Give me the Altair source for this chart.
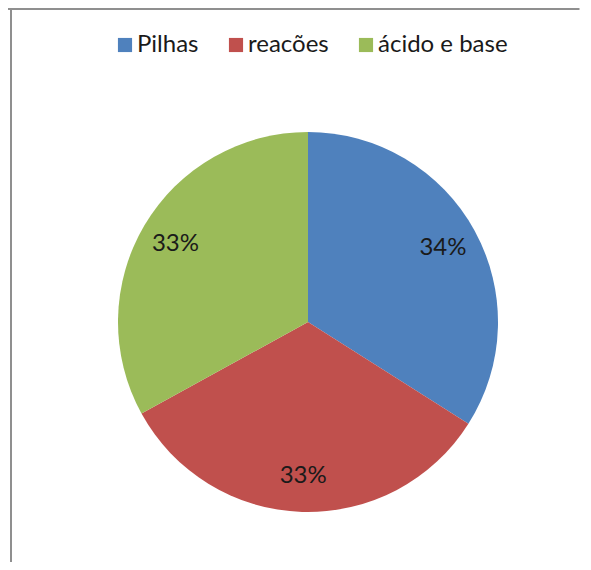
import altair as alt
import pandas as pd

categories = ["Pilhas", "reacões", "ácido e base"]
values = [34, 33, 33]
labels = ["34%", "33%", "33%"]
colors = ["#4F81BD", "#C0504D", "#9BBB59"]

df = pd.DataFrame({
    "cat": categories,
    "val": values,
    "lab": labels,
    "ord": list(range(len(categories))),
})

W, H = 575, 554
CX, CY = 300, 314
R = 190

base = alt.Chart(df).encode(
    theta=alt.Theta("val:Q", stack=True),
    order=alt.Order("ord:Q"),
)

arcs = base.mark_arc(x=CX, y=CY, outerRadius=R, strokeWidth=0).encode(
    color=alt.Color(
        "cat:N",
        scale=alt.Scale(domain=categories, range=colors),
        legend=alt.Legend(
            title=None,
            orient="none",
            direction="horizontal",
            legendX=105,
            legendY=25,
            padding=0,
            symbolType="square",
            symbolSize=200,
            symbolStrokeWidth=0,
            labelFontSize=24,
            labelFont="Lato",
            labelColor="#1a1a1a",
            labelOffset=0,
            columnPadding=25,
            symbolOpacity=1,
        ),
    )
)

text = base.mark_text(
    x=CX, y=CY, radius=154, font="Lato", fontSize=24, color="#1a1a1a"
).encode(text="lab:N")

border_df = alt.Data(values=[{"a": 1}])
top_line = alt.Chart(border_df).mark_rule(color="#8f8f8f", strokeWidth=2).encode(
    y=alt.value(1)
)
left_line = alt.Chart(border_df).mark_rule(color="#8f8f8f", strokeWidth=2).encode(
    x=alt.value(3)
)
right_cover = alt.Chart(border_df).mark_rule(color="#ffffff", strokeWidth=5).encode(
    x=alt.value(W - 1)
)
bottom_cover = alt.Chart(border_df).mark_rule(color="#ffffff", strokeWidth=5).encode(
    x=alt.value(6), x2=alt.value(W), y=alt.value(H - 1)
)

chart = alt.layer(arcs, text, top_line, left_line, right_cover, bottom_cover).properties(
    width=W, height=H, autosize=alt.AutoSizeParams(type="none"), padding=0
).configure_view(strokeWidth=0, stroke="#ffffff")

chart.save("out.html", embed_options={"renderer": "svg", "actions": False})
